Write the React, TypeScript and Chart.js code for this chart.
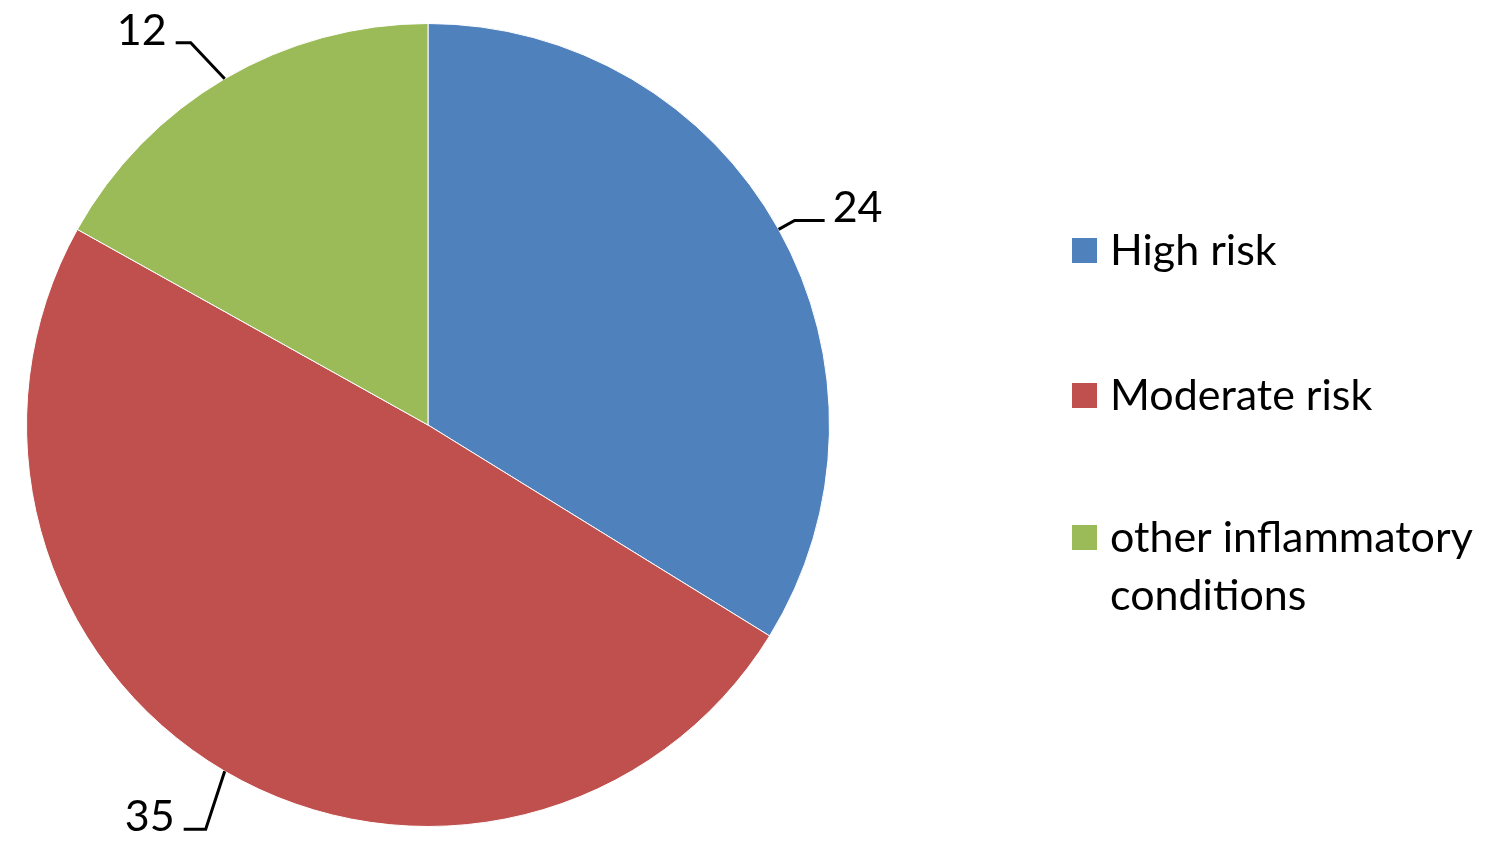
import React, { useEffect, useRef } from "react";
import { Chart, registerables } from "chart.js";

Chart.register(...registerables);

const categories = ["High risk", "Moderate risk", "other inflammatory conditions"];
const legendLines = [["High risk"], ["Moderate risk"], ["other inflammatory", "conditions"]];
const values = [24, 35, 12];
const colors = ["#4F81BD", "#C0504D", "#9BBB59"];

const FONT = "Lato, 'Open Sans', sans-serif";

// leader line layout per slice: [elbow dx, elbow dy, horizontal length (signed)]
const leaderLayout: [number, number, number][] = [
  [16, -9, 30],
  [-19, 58, -22],
  [-34, -36, -15],
];

const labelPlugin = {
  id: "leaderLabels",
  afterDraw(chart: any) {
    const ctx = chart.ctx;
    const meta = chart.getDatasetMeta(0);
    const data = chart.data.datasets[0].data as number[];
    ctx.save();
    meta.data.forEach((arc: any, i: number) => {
      const { x, y, startAngle, endAngle, outerRadius } = arc.getProps(
        ["x", "y", "startAngle", "endAngle", "outerRadius"],
        true
      );
      const mid = (startAngle + endAngle) / 2;
      const ex = x + outerRadius * Math.cos(mid);
      const ey = y + outerRadius * Math.sin(mid);
      const [dx, dy, hl] = leaderLayout[i];
      const bx = ex + dx;
      const by = ey + dy;
      const hx = bx + hl;
      ctx.strokeStyle = "#000";
      ctx.lineWidth = 3;
      ctx.beginPath();
      ctx.moveTo(ex, ey);
      ctx.lineTo(bx, by);
      ctx.lineTo(hx, by);
      ctx.stroke();
      ctx.fillStyle = "#000";
      ctx.font = `43px ${FONT}`;
      ctx.textBaseline = "alphabetic";
      if (hl >= 0) {
        ctx.textAlign = "left";
        ctx.fillText(String(data[i]), hx + 8, by + 2);
      } else {
        ctx.textAlign = "right";
        ctx.fillText(String(data[i]), hx - 9, by + 2);
      }
    });

    // legend
    const lx = 1072;
    const baselines = [265, 410, 552];
    ctx.font = `43px ${FONT}`;
    ctx.textAlign = "left";
    ctx.textBaseline = "alphabetic";
    legendLines.forEach((lines, i) => {
      const bl = baselines[i];
      ctx.fillStyle = colors[i];
      ctx.fillRect(lx, bl - 27, 25, 25);
      ctx.fillStyle = "#000";
      lines.forEach((t, j) => ctx.fillText(t, lx + 38, bl + j * 58));
    });
    ctx.restore();
  },
};

export default function App() {
  const ref = useRef<HTMLCanvasElement | null>(null);
  useEffect(() => {
    document.body.style.margin = "0";
    const chart = new Chart(ref.current!, {
      type: "pie",
      data: {
        labels: categories,
        datasets: [
          {
            data: values,
            backgroundColor: colors,
            borderColor: "#ffffff",
            borderWidth: 1,
          },
        ],
      },
      options: {
        animation: false,
        responsive: false,
        layout: { padding: { left: 26, right: 670, top: 23, bottom: 24 } },
        plugins: { legend: { display: false }, tooltip: { enabled: false } },
      },
      plugins: [labelPlugin],
    });
    return () => chart.destroy();
  }, []);
  return (
    <div style={{ width: 1500, height: 851, background: "#fff" }}>
      <canvas ref={ref} width={1500} height={851} />
    </div>
  );
}
